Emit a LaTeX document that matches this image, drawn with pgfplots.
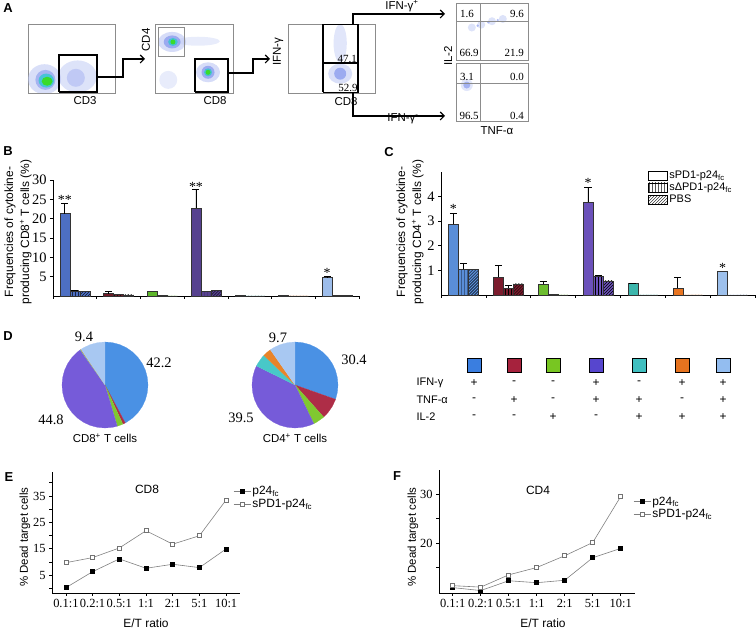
\documentclass[border=0pt]{standalone}
\usepackage{pgfplots}
\pgfplotsset{compat=1.18}
\usepgfplotslibrary{polar}
\usetikzlibrary{patterns,arrows.meta}
\usepackage{fontspec}
\setmainfont{Liberation Sans}
\newfontfamily\serif{Liberation Serif}
\newcommand{\fs}[1]{\fontsize{#1}{#1}\selectfont}

\definecolor{pBlue}{HTML}{4A91E4}
\definecolor{pRed}{HTML}{AE2D47}
\definecolor{pGreen}{HTML}{80C830}
\definecolor{pPurple}{HTML}{765BD9}
\definecolor{pTeal}{HTML}{48C8C8}
\definecolor{pOrange}{HTML}{E8842A}
\definecolor{pLight}{HTML}{A8C8F2}
\definecolor{lBlue}{HTML}{3A7EE0}
\definecolor{lRed}{HTML}{A6223D}
\definecolor{lGreen}{HTML}{78C622}
\definecolor{lPurple}{HTML}{5746CE}
\definecolor{lTeal}{HTML}{40BFC0}
\definecolor{lOrange}{HTML}{E6731F}
\definecolor{lLight}{HTML}{93BDF0}
\definecolor{bBlue}{HTML}{4D6FC3}
\definecolor{bRed}{HTML}{6E1B28}
\definecolor{bGreen}{HTML}{5DB62A}
\definecolor{bPurple}{HTML}{56418F}
\definecolor{bTeal}{HTML}{3AA7A0}
\definecolor{bOrange}{HTML}{E07020}
\definecolor{bLight}{HTML}{9DBDEB}
\definecolor{cBlue}{HTML}{5A8ED8}
\definecolor{cRed}{HTML}{7B1C2D}
\definecolor{cGreen}{HTML}{6DBD30}
\definecolor{cPurple}{HTML}{6B51BA}
\definecolor{cTeal}{HTML}{3CB6AC}
\definecolor{cOrange}{HTML}{E87420}
\definecolor{cLight}{HTML}{9DC0EC}
\definecolor{fLight}{HTML}{B4C0F2}
\definecolor{fMid}{HTML}{7C90EC}
\definecolor{fCyan}{HTML}{30C8D0}
\definecolor{fGreen}{HTML}{3ADB2A}

\tikzset{sig/.style={font=\fs{14}\serif, anchor=base, yshift=-4.5bp}}
\pgfplotsset{
  barbase/.style={forget plot, ybar, bar width=10bp, bar shift=0bp, draw=black!80, line width=0.4bp,
    error bars/y dir=plus, error bars/y explicit,
    error bars/error bar style={black, line width=0.9bp},
    error bars/error mark options={rotate=90, black, mark size=3.5bp, line width=0.9bp}},
  barA/.style={barbase},
  barB/.style={barbase, postaction={pattern=vertical lines, pattern color=black}},
  barC/.style={barbase, postaction={pattern=north east lines, pattern color=black}},
  flow/.style={anchor=south west, scale only axis, ticks=none, xmin=0, xmax=100, ymin=0, ymax=100,
    axis line style={black!45, line width=0.8bp}, clip=true, clip marker paths=true},
  blob/.style={only marks, mark=*, forget plot, draw=none},
  pie/.style={anchor=south west, scale only axis, hide axis, width=86bp, height=86bp,
    xmin=-1, xmax=1, ymin=-1, ymax=1, clip=false},
  sl/.style={draw=#1, line width=0.2bp, fill=#1, data cs=polar, forget plot},
  mybox/.style={legend image code/.code={\draw[##1] (0bp,-4.5bp) rectangle (19bp,4.5bp);}},
  barax/.style={anchor=south west, scale only axis, xmin=0, xmax=7, axis lines*=left,
    tick align=outside, xtick={0,...,7}, xticklabels={}, major tick length=3bp,
    tick style={black, line width=0.7bp}, axis line style={black, line width=0.7bp},
    tick label style={font=\fs{14.5}\serif}, /pgf/number format/assume math mode=true, clip=false},
  lineax/.style={anchor=south west, scale only axis, axis lines*=left, tick align=outside,
    xtick={0,...,6}, xticklabels={0.1:1,0.2:1,0.5:1,1:1,2:1,5:1,10:1},
    major tick length=3bp, minor tick length=3bp, tick style={black, line width=0.6bp},
    axis line style={black, line width=0.6bp},
    tick label style={font=\fs{12.5}\serif}, /pgf/number format/assume math mode=true,
    legend cell align=left},
}
% \onebar{style}{x}{colour}{value}{error}
\newcommand{\onebar}[5]{\ifdim #5pt>0pt \addplot[#1, fill=#3] coordinates {(#2,#4) +- (0,#5)};\else \addplot[#1, fill=#3, error bars/y dir=none] coordinates {(#2,#4)};\fi}

\begin{document}
\begin{tikzpicture}
\path[use as bounding box] (0,0) rectangle (756bp,629bp);

% ---------------- Panel A ----------------
\node[font=\bfseries\fs{13}] at (8bp,621bp) {A};
\begin{axis}[flow, at={(28bp,536bp)}, width=87bp, height=69bp]
\addplot[blob, mark size=15bp, mark options={fill=fLight, draw opacity=0, fill opacity=0.5, xscale=1.1}] coordinates {(19,20)};
\addplot[blob, mark size=10bp, mark options={fill=fMid, draw opacity=0, fill opacity=0.55}] coordinates {(20,19)};
\addplot[blob, mark size=7bp, mark options={fill=fCyan, draw opacity=0, fill opacity=0.8, xscale=1.1}] coordinates {(21,18)};
\addplot[blob, mark size=4.5bp, mark options={fill=fGreen, draw opacity=0, xscale=1.2}] coordinates {(22,17)};
\addplot[blob, mark size=16bp, mark options={fill=fLight, draw opacity=0, fill opacity=0.45, xscale=1.2}] coordinates {(57,24)};
\addplot[blob, mark size=9bp, mark options={fill=fMid, draw opacity=0, fill opacity=0.3}] coordinates {(55,22)};
\addplot[black, line width=1.2bp, forget plot] coordinates {(35.6,1.4)(79.3,1.4)(79.3,55.1)(35.6,55.1)(35.6,1.4)};
\end{axis}
\node[font=\fs{11.5}] at (85bp,528bp) {CD3};
\draw[line width=1.1bp, -{Straight Barb[length=4bp,width=8bp]}] (97bp,552bp) -- (123bp,552bp) -- (123bp,570bp) -- (145bp,570bp);

\begin{axis}[flow, at={(155bp,536bp)}, width=78bp, height=69bp]
\addplot[blob, mark size=9bp, mark options={fill=fLight, draw opacity=0, fill opacity=0.3}] coordinates {(17,19)};
\addplot[blob, mark size=10bp, mark options={fill=fLight, draw opacity=0, fill opacity=0.3, xscale=2.2, yscale=0.45}] coordinates {(55,75)};
\addplot[blob, mark size=10bp, mark options={fill=fLight, draw opacity=0, fill opacity=0.55, xscale=1.4}] coordinates {(22,74)};
\addplot[blob, mark size=6.5bp, mark options={fill=fMid, draw opacity=0, fill opacity=0.65, xscale=1.3}] coordinates {(22,74)};
\addplot[blob, mark size=4bp, mark options={fill=fCyan, draw opacity=0, fill opacity=0.8, xscale=1.2}] coordinates {(23,74)};
\addplot[blob, mark size=2.5bp, mark options={fill=fGreen, draw opacity=0}] coordinates {(23,74)};
\addplot[blob, mark size=10bp, mark options={fill=fLight, draw opacity=0, fill opacity=0.55, xscale=1.2}] coordinates {(68,30)};
\addplot[blob, mark size=6.5bp, mark options={fill=fMid, draw opacity=0, fill opacity=0.65}] coordinates {(68,30)};
\addplot[blob, mark size=4bp, mark options={fill=fCyan, draw opacity=0, fill opacity=0.8}] coordinates {(68,30)};
\addplot[blob, mark size=2.5bp, mark options={fill=fGreen, draw opacity=0}] coordinates {(68,30)};
\addplot[black!45, line width=0.8bp, forget plot] coordinates {(3.8,53.6)(37.2,53.6)(37.2,95.7)(3.8,95.7)(3.8,53.6)};
\addplot[black, line width=1.2bp, forget plot] coordinates {(51.3,1.4)(93.6,1.4)(93.6,49.3)(51.3,49.3)(51.3,1.4)};
\end{axis}
\node[font=\fs{11.5}, rotate=90] at (146bp,589bp) {CD4};
\node[font=\fs{11.5}] at (215bp,528bp) {CD8};
\draw[line width=1.1bp, -{Straight Barb[length=4bp,width=8bp]}] (228bp,556bp) -- (253bp,556bp) -- (253bp,570bp) -- (270bp,570bp);

\begin{axis}[flow, at={(288bp,536bp)}, width=87bp, height=69bp]
\addplot[blob, mark size=12bp, mark options={fill=fLight, draw opacity=0, fill opacity=0.4, xscale=0.55, yscale=1.6}] coordinates {(60,72)};
\addplot[blob, mark size=10bp, mark options={fill=fLight, draw opacity=0, fill opacity=0.5, xscale=1.2}] coordinates {(60,28)};
\addplot[blob, mark size=6bp, mark options={fill=fMid, draw opacity=0, fill opacity=0.65}] coordinates {(60,28)};
\addplot[black, line width=1.2bp, forget plot] coordinates {(40.2,0.8)(80.5,0.8)(80.5,99.2)(40.2,99.2)(40.2,0.8)};
\addplot[black, line width=1.2bp, forget plot] coordinates {(40.2,43.5)(80.5,43.5)};
\node[font=\fs{11}\serif] at (axis cs:68,49.3) {47.1};
\node[font=\fs{11}\serif] at (axis cs:69,7) {52.9};
\end{axis}
\node[font=\fs{11.5}, rotate=90] at (278bp,577bp) {IFN-γ};
\node[font=\fs{11.5}] at (346bp,527bp) {CD8};
\draw[line width=1.1bp, -{Straight Barb[length=4bp,width=8bp]}] (353bp,605bp) -- (353bp,615bp) -- (445bp,615bp);
\draw[line width=1.1bp, -{Straight Barb[length=4bp,width=8bp]}] (353bp,536bp) -- (353bp,513bp) -- (445bp,513bp);
\node[font=\fs{11.5}] at (402bp,623bp) {IFN-γ\textsuperscript{+}};
\node[font=\fs{11.5}] at (403bp,510bp) {IFN-γ\textsuperscript{-}};

\begin{axis}[flow, at={(456bp,569bp)}, width=72bp, height=57bp]
\addplot[blob, mark size=4bp, mark options={fill=fLight, draw opacity=0, fill opacity=0.45}] coordinates {(22,57)(35,62)(50,68)(65,72)};
\addplot[blob, mark size=1.3bp, mark options={fill=fMid, draw opacity=0, fill opacity=0.6}] coordinates {(30,60)(45,66)(58,70)};
\addplot[black!45, line width=0.6bp, forget plot] coordinates {(33.3,0)(33.3,100)};
\addplot[black!45, line width=0.6bp, forget plot] coordinates {(0,68.4)(100,68.4)};
\node[font=\fs{11}\serif, anchor=west] at (axis cs:1,80.7) {1.6};
\node[font=\fs{11}\serif, anchor=east] at (axis cs:99,80.7) {9.6};
\node[font=\fs{11}\serif, anchor=west] at (axis cs:0,12.3) {66.9};
\node[font=\fs{11}\serif, anchor=east] at (axis cs:99,12.3) {21.9};
\end{axis}
\begin{axis}[flow, at={(456bp,508bp)}, width=72bp, height=58bp]
\addplot[blob, mark size=6bp, mark options={fill=fLight, draw opacity=0, fill opacity=0.4}] coordinates {(15,62)};
\addplot[blob, mark size=3.5bp, mark options={fill=fMid, draw opacity=0, fill opacity=0.6}] coordinates {(15,62)};
\addplot[black!45, line width=0.6bp, forget plot] coordinates {(33.3,0)(33.3,100)};
\addplot[black!45, line width=0.6bp, forget plot] coordinates {(0,65.5)(100,65.5)};
\node[font=\fs{11}\serif, anchor=west] at (axis cs:1,75.9) {3.1};
\node[font=\fs{11}\serif, anchor=east] at (axis cs:99,75.9) {0.0};
\node[font=\fs{11}\serif, anchor=west] at (axis cs:0,8.6) {96.5};
\node[font=\fs{11}\serif, anchor=east] at (axis cs:99,8.6) {0.4};
\end{axis}
\node[font=\fs{11.5}, rotate=90] at (448bp,573bp) {IL-2};
\node[font=\fs{11.5}] at (497bp,498bp) {TNF-α};

% ---------------- Panel B ----------------
\node[font=\bfseries\fs{13}] at (8bp,478bp) {B};
\begin{axis}[barax, at={(53bp,333bp)}, width=306bp, height=116bp, ymin=0, ymax=30, ytick={5,10,...,30}]
\onebar{barA}{0.271}{bBlue}{21.3}{2.7}
\onebar{barB}{0.5}{bBlue}{1.3}{0.15}
\onebar{barC}{0.729}{bBlue}{1.2}{0}
\onebar{barA}{1.271}{bRed}{0.6}{0.5}
\onebar{barB}{1.5}{bRed}{0.4}{0}
\onebar{barC}{1.729}{bRed}{0.3}{0}
\onebar{barA}{2.271}{bGreen}{1.2}{0}
\onebar{barB}{2.5}{bGreen}{0.15}{0}
\onebar{barC}{2.729}{bGreen}{0}{0}
\onebar{barA}{3.271}{bPurple}{22.8}{4.8}
\onebar{barB}{3.5}{bPurple}{1.2}{0}
\onebar{barC}{3.729}{bPurple}{1.4}{0}
\onebar{barA}{4.271}{bTeal}{0.1}{0}
\onebar{barB}{4.5}{bTeal}{0}{0}
\onebar{barC}{4.729}{bTeal}{0}{0}
\onebar{barA}{5.271}{bOrange}{0.25}{0}
\onebar{barB}{5.5}{bOrange}{0}{0}
\onebar{barC}{5.729}{bOrange}{0}{0}
\onebar{barA}{6.271}{bLight}{4.75}{0.2}
\onebar{barB}{6.5}{bLight}{0.1}{0}
\onebar{barC}{6.729}{bLight}{0.1}{0}
\node[sig] at (axis cs:0.271,24.8) {**};
\node[sig] at (axis cs:3.271,28.2) {**};
\node[sig] at (axis cs:6.271,5.95) {*};
\end{axis}
\node[rotate=90, align=center, font=\fontsize{12}{16}\selectfont] at (18bp,397bp) {Frequencies of cytokine-\\producing CD8\textsuperscript{+} T cells (\%)};

% ---------------- Panel C ----------------
\node[font=\bfseries\fs{13}] at (389bp,477bp) {C};
\begin{axis}[barax, at={(441bp,334bp)}, width=314bp, height=123bp, ymin=0, ymax=5, ytick={1,2,3,4},
  legend style={at={(0.65,1.04)}, anchor=north west, draw=none, fill=none, font=\fs{11}, row sep=0bp, nodes={inner sep=1.5bp}}, legend cell align=left]
\onebar{barA}{0.277}{cBlue}{2.87}{0.45}
\onebar{barB}{0.5}{cBlue}{1.04}{0.25}
\onebar{barC}{0.723}{cBlue}{1.03}{0}
\onebar{barA}{1.277}{cRed}{0.74}{0.45}
\onebar{barB}{1.5}{cRed}{0.27}{0.11}
\onebar{barC}{1.723}{cRed}{0.45}{0}
\onebar{barA}{2.277}{cGreen}{0.43}{0.11}
\onebar{barB}{2.5}{cGreen}{0.03}{0}
\onebar{barC}{2.723}{cGreen}{0}{0}
\onebar{barA}{3.277}{cPurple}{3.79}{0.57}
\onebar{barB}{3.5}{cPurple}{0.78}{0.02}
\onebar{barC}{3.723}{cPurple}{0.58}{0}
\onebar{barA}{4.277}{cTeal}{0.46}{0.02}
\onebar{barB}{4.5}{cTeal}{0}{0}
\onebar{barC}{4.723}{cTeal}{0}{0}
\onebar{barA}{5.277}{cOrange}{0.28}{0.44}
\onebar{barB}{5.5}{cOrange}{0}{0}
\onebar{barC}{5.723}{cOrange}{0}{0}
\onebar{barA}{6.277}{cLight}{0.95}{0}
\onebar{barB}{6.5}{cLight}{0}{0}
\onebar{barC}{6.723}{cLight}{0}{0}
\node[sig] at (axis cs:0.277,3.50) {*};
\node[sig] at (axis cs:3.277,4.57) {*};
\node[sig] at (axis cs:6.277,1.09) {*};
\addlegendimage{mybox, draw=black, fill=white, line width=0.6bp}
\addlegendentry{sPD1-p24\textsubscript{fc}}
\addlegendimage{mybox, draw=black, fill=white, line width=0.6bp, postaction={pattern=vertical lines}}
\addlegendentry{sΔPD1-p24\textsubscript{fc}}
\addlegendimage{mybox, draw=black, fill=white, line width=0.6bp, postaction={pattern=north east lines}}
\addlegendentry{PBS}
\end{axis}
\node[rotate=90, align=center, font=\fontsize{12}{16}\selectfont] at (410bp,397bp) {Frequencies of cytokine-\\producing CD4\textsuperscript{+} T cells (\%)};

% ---------------- Panel D ----------------
\node[font=\bfseries\fs{13}] at (8bp,293bp) {D};
\begin{axis}[pie, at={(62bp,201bp)}]
\addplot[sl=pBlue] coordinates {(0,0) (90,1) (80,1) (70,1) (60,1) (50,1) (40,1) (30,1) (20,1) (10,1) (0,1) (-10,1) (-20,1) (-30,1) (-40,1) (-50,1) (-60,1) (-61.92,1)};
\addplot[sl=pRed] coordinates {(0,0) (-61.92,1) (-65.52,1)};
\addplot[sl=pGreen] coordinates {(0,0) (-65.52,1) (-70,1) (-73.44,1)};
\addplot[sl=pPurple] coordinates {(0,0) (-73.44,1) (-80,1) (-90,1) (-100,1) (-110,1) (-120,1) (-130,1) (-140,1) (-150,1) (-160,1) (-170,1) (-180,1) (-190,1) (-200,1) (-210,1) (-220,1) (-230,1) (-234.72,1)};
\addplot[sl=pTeal] coordinates {(0,0) (-234.72,1) (-235.44,1)};
\addplot[sl=pOrange] coordinates {(0,0) (-235.44,1) (-236.16,1)};
\addplot[sl=pLight] coordinates {(0,0) (-236.16,1) (-240,1) (-250,1) (-260,1) (-270,1)};
\end{axis}
\node[font=\fs{14.5}\serif] at (159bp,266bp) {42.2};
\node[font=\fs{14.5}\serif] at (84bp,292bp) {9.4};
\node[font=\fs{14.5}\serif] at (51bp,209bp) {44.8};
\node[font=\fs{11.5}] at (105bp,191bp) {CD8\textsuperscript{+} T cells};

\begin{axis}[pie, at={(252bp,201bp)}]
\addplot[sl=pBlue] coordinates {(0,0) (90,1) (80,1) (70,1) (60,1) (50,1) (40,1) (30,1) (20,1) (10,1) (0,1) (-10,1) (-19.44,1)};
\addplot[sl=pRed] coordinates {(0,0) (-19.44,1) (-20,1) (-30,1) (-40,1) (-48.24,1)};
\addplot[sl=pGreen] coordinates {(0,0) (-48.24,1) (-50,1) (-60,1) (-64.08,1)};
\addplot[sl=pPurple] coordinates {(0,0) (-64.08,1) (-70,1) (-80,1) (-90,1) (-100,1) (-110,1) (-120,1) (-130,1) (-140,1) (-150,1) (-160,1) (-170,1) (-180,1) (-190,1) (-200,1) (-206.28,1)};
\addplot[sl=pTeal] coordinates {(0,0) (-206.28,1) (-210,1) (-220,1) (-223.56,1)};
\addplot[sl=pOrange] coordinates {(0,0) (-223.56,1) (-230,1) (-235.08,1)};
\addplot[sl=pLight] coordinates {(0,0) (-235.08,1) (-240,1) (-250,1) (-260,1) (-270,1)};
\end{axis}
\node[font=\fs{14.5}\serif] at (354bp,269bp) {30.4};
\node[font=\fs{14.5}\serif] at (278bp,291bp) {9.7};
\node[font=\fs{14.5}\serif] at (241bp,211bp) {39.5};
\node[font=\fs{11.5}] at (295bp,191bp) {CD4\textsuperscript{+} T cells};

% colour key
\begin{axis}[at={(460bp,259bp)}, anchor=south west, scale only axis, width=280bp, height=10bp,
  xmin=460, xmax=740, ymin=0, ymax=1, hide axis, clip=false]
\addplot[only marks, mark=square*, mark size=6.8bp, mark options={draw=none, fill=lBlue}] coordinates {(474,0.5)};
\addplot[only marks, mark=square*, mark size=6.8bp, mark options={draw=none, fill=lRed}] coordinates {(514,0.5)};
\addplot[only marks, mark=square*, mark size=6.8bp, mark options={draw=none, fill=lGreen}] coordinates {(553,0.5)};
\addplot[only marks, mark=square*, mark size=6.8bp, mark options={draw=none, fill=lPurple}] coordinates {(596,0.5)};
\addplot[only marks, mark=square*, mark size=6.8bp, mark options={draw=none, fill=lTeal}] coordinates {(639,0.5)};
\addplot[only marks, mark=square*, mark size=6.8bp, mark options={draw=none, fill=lOrange}] coordinates {(682,0.5)};
\addplot[only marks, mark=square*, mark size=6.8bp, mark options={draw=none, fill=lLight}] coordinates {(723,0.5)};
\end{axis}
\node[anchor=west, font=\fs{11}] at (413bp,246bp) {IFN-γ};
\node[anchor=west, font=\fs{11}] at (413bp,229bp) {TNF-α};
\node[anchor=west, font=\fs{11}] at (413bp,212bp) {IL-2};
\foreach \x/\a/\b/\c in {474/+/-/-, 514/-/+/-, 553/-/-/+, 596/+/+/-, 639/-/+/+, 682/+/-/+, 723/+/+/+} {
  \node[font=\fs{12}] at (\x bp,246bp) {\a};
  \node[font=\fs{12}] at (\x bp,229bp) {\b};
  \node[font=\fs{12}] at (\x bp,212bp) {\c};
}

% ---------------- Panel E ----------------
\node[font=\bfseries\fs{13}] at (9bp,152bp) {E};
\begin{axis}[lineax, at={(52bp,36bp)}, width=188bp, height=121bp,
  xmin=-0.52, xmax=6.52, ymin=-1.84, ymax=44.1,
  ytick={5,15,25,35}, minor ytick={0,10,20,30,40},
  legend style={at={(0.963,0.893)}, anchor=north west, draw=none, fill=none, font=\fs{12}, row sep=0bp, inner sep=0bp, nodes={inner sep=1.5bp}}]
\addplot[black!50, line width=0.6bp, mark=square*, mark size=2bp, mark options={black, fill=black}] coordinates {(0,0.17) (1,6.25) (2,11.1) (3,7.55) (4,9.07) (5,7.8) (6,14.9)};
\addlegendentry{p24\textsubscript{fc}}
\addplot[black!50, line width=0.6bp, mark=square*, mark size=2bp, mark options={black!55, fill=white}] coordinates {(0,9.67) (1,11.6) (2,15.25) (3,21.8) (4,16.7) (5,19.9) (6,33.5)};
\addlegendentry{sPD1-p24\textsubscript{fc}}
\end{axis}
\node[font=\fs{12}] at (147bp,140bp) {CD8};
\node[font=\fs{12}] at (146bp,6bp) {E/T ratio};
\node[rotate=90, font=\fs{11.5}] at (25bp,92bp) {\% Dead target cells};

% ---------------- Panel F ----------------
\node[font=\bfseries\fs{13}] at (397bp,153bp) {F};
\begin{axis}[lineax, at={(439bp,36bp)}, width=196bp, height=123bp,
  xmin=-0.49, xmax=6.51, ymin=9.8, ymax=34.9,
  ytick={20,30}, minor ytick={15,25},
  legend style={at={(0.99,0.797)}, anchor=north west, draw=none, fill=none, font=\fs{12}, row sep=0bp, inner sep=0bp, nodes={inner sep=1.5bp}}]
\addplot[black!50, line width=0.6bp, mark=square*, mark size=2bp, mark options={black, fill=black}] coordinates {(0,10.9) (1,10.3) (2,12.3) (3,11.9) (4,12.4) (5,17.0) (6,18.9)};
\addlegendentry{p24\textsubscript{fc}}
\addplot[black!50, line width=0.6bp, mark=square*, mark size=2bp, mark options={black!55, fill=white}] coordinates {(0,11.3) (1,11.0) (2,13.5) (3,15.0) (4,17.4) (5,20.1) (6,29.5)};
\addlegendentry{sPD1-p24\textsubscript{fc}}
\end{axis}
\node[font=\fs{12}] at (538bp,139bp) {CD4};
\node[font=\fs{12}] at (543bp,6bp) {E/T ratio};
\node[rotate=90, font=\fs{11.5}] at (413bp,92bp) {\% Dead target cells};
\end{tikzpicture}
\end{document}
